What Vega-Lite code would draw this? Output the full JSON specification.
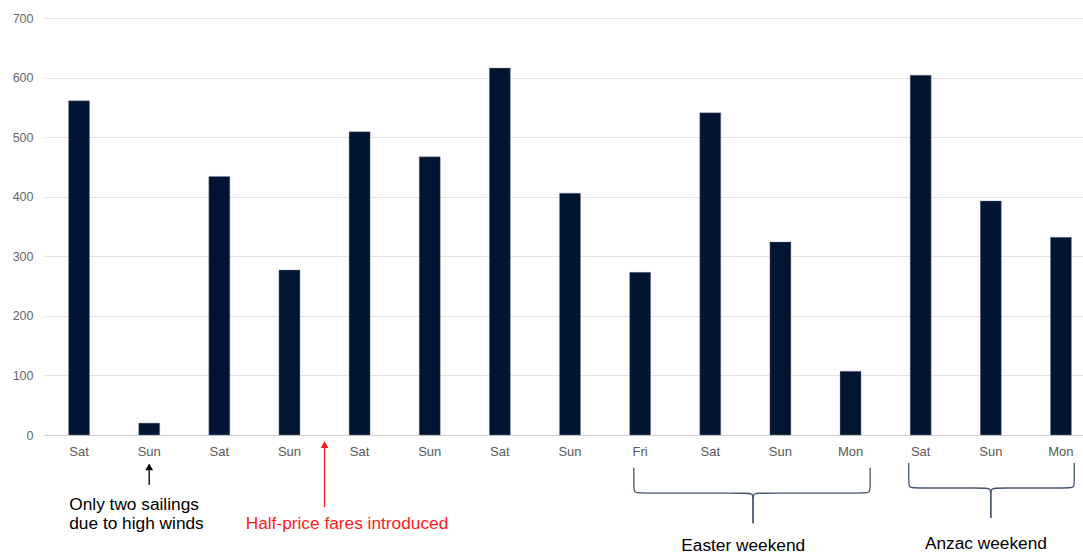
{
  "$schema": "https://vega.github.io/schema/vega-lite/v6.json",
  "width": 1039,
  "height": 417,
  "autosize": {"type": "none"},
  "padding": {"left": 44, "top": 18, "right": 0, "bottom": 119},
  "background": "white",
  "config": {"view": {"stroke": null}, "font": "Liberation Sans"},
  "datasets": {
    "bars": [
      {"slot": "01 Sat", "passengers": 561},
      {"slot": "02 Sun", "passengers": 20},
      {"slot": "03 Sat", "passengers": 434},
      {"slot": "04 Sun", "passengers": 277},
      {"slot": "05 Sat", "passengers": 509},
      {"slot": "06 Sun", "passengers": 467},
      {"slot": "07 Sat", "passengers": 616},
      {"slot": "08 Sun", "passengers": 406},
      {"slot": "09 Fri", "passengers": 273},
      {"slot": "10 Sat", "passengers": 541},
      {"slot": "11 Sun", "passengers": 324},
      {"slot": "12 Mon", "passengers": 107},
      {"slot": "13 Sat", "passengers": 604},
      {"slot": "14 Sun", "passengers": 393},
      {"slot": "15 Mon", "passengers": 332}
    ],
    "notes": [
      {"note": "wind", "pos": -0.14, "value": -125.5, "text": "Only two sailings"},
      {"note": "wind", "pos": -0.14, "value": -158.3, "text": "due to high winds"},
      {"note": "fare", "pos": 3.82, "value": -157, "text": "Half-price fares introduced"},
      {"note": "weekend", "pos": 9.47, "value": -194, "text": "Easter weekend"},
      {"note": "weekend", "pos": 12.93, "value": -191.6, "text": "Anzac weekend"}
    ],
    "arrows": [
      {"note": "wind", "pos": 1, "from": -84, "to": -53.4},
      {"note": "fare", "pos": 3.5, "from": -121, "to": -16}
    ],
    "braces": [
      {"part": "Easter L", "step": 1, "pos": 7.91, "value": -55},
      {"part": "Easter L", "step": 2, "pos": 7.91, "value": -85.5},
      {"part": "Easter L", "step": 3, "pos": 7.91, "value": -97.5},
      {"part": "Easter L", "step": 4, "pos": 8.01, "value": -97.5},
      {"part": "Easter L", "step": 5, "pos": 9.51, "value": -97.5},
      {"part": "Easter L", "step": 6, "pos": 9.61, "value": -97.5},
      {"part": "Easter L", "step": 7, "pos": 9.61, "value": -109.5},
      {"part": "Easter L", "step": 8, "pos": 9.61, "value": -148},
      {"part": "Easter R", "step": 1, "pos": 11.28, "value": -55},
      {"part": "Easter R", "step": 2, "pos": 11.28, "value": -85.5},
      {"part": "Easter R", "step": 3, "pos": 11.28, "value": -97.5},
      {"part": "Easter R", "step": 4, "pos": 11.18, "value": -97.5},
      {"part": "Easter R", "step": 5, "pos": 9.71, "value": -97.5},
      {"part": "Easter R", "step": 6, "pos": 9.61, "value": -97.5},
      {"part": "Easter R", "step": 7, "pos": 9.61, "value": -109.5},
      {"part": "Easter R", "step": 8, "pos": 9.61, "value": -148},
      {"part": "Anzac L", "step": 1, "pos": 11.83, "value": -47},
      {"part": "Anzac L", "step": 2, "pos": 11.83, "value": -77},
      {"part": "Anzac L", "step": 3, "pos": 11.83, "value": -89},
      {"part": "Anzac L", "step": 4, "pos": 11.93, "value": -89},
      {"part": "Anzac L", "step": 5, "pos": 12.9, "value": -89},
      {"part": "Anzac L", "step": 6, "pos": 13.0, "value": -89},
      {"part": "Anzac L", "step": 7, "pos": 13.0, "value": -101},
      {"part": "Anzac L", "step": 8, "pos": 13.0, "value": -139.5},
      {"part": "Anzac R", "step": 1, "pos": 14.19, "value": -47},
      {"part": "Anzac R", "step": 2, "pos": 14.19, "value": -77},
      {"part": "Anzac R", "step": 3, "pos": 14.19, "value": -89},
      {"part": "Anzac R", "step": 4, "pos": 14.09, "value": -89},
      {"part": "Anzac R", "step": 5, "pos": 13.1, "value": -89},
      {"part": "Anzac R", "step": 6, "pos": 13.0, "value": -89},
      {"part": "Anzac R", "step": 7, "pos": 13.0, "value": -101},
      {"part": "Anzac R", "step": 8, "pos": 13.0, "value": -139.5}
    ]
  },
  "resolve": {"scale": {"x": "independent"}, "axis": {"y": "independent"}},
  "layer": [
    {
      "data": {"name": "bars"},
      "mark": {"type": "bar", "color": "#011532", "stroke": "#8a93a3", "strokeWidth": 0.4},
      "encoding": {
        "x": {
          "field": "slot", "type": "nominal", "sort": null,
          "scale": {"type": "band", "range": [0, 1052], "paddingInner": 0.7, "paddingOuter": 0.35},
          "axis": {
            "title": null, "labelAngle": 0, "ticks": false,
            "domainColor": "#cccccc", "domainWidth": 1,
            "labelExpr": "split(datum.label, ' ')[1]",
            "labelFontSize": 13, "labelColor": "#595959", "labelPadding": 10
          }
        },
        "y": {
          "field": "passengers", "type": "quantitative",
          "scale": {"domain": [0, 700], "nice": false},
          "axis": {
            "title": null, "values": [0, 100, 200, 300, 400, 500, 600, 700],
            "domain": false, "ticks": false, "grid": true, "gridColor": "#e2e2e2",
            "labelFontSize": 12.5, "labelColor": "#666666", "labelPadding": 11
          }
        }
      }
    },
    {
      "data": {"name": "braces"},
      "mark": {"type": "line", "interpolate": "basis", "color": "#45546b", "strokeWidth": 1.3},
      "encoding": {
        "x": {"field": "pos", "type": "quantitative", "scale": {"domain": [-0.5, 14.5], "range": [0, 1052], "nice": false, "zero": false}, "axis": null},
        "y": {"field": "value", "type": "quantitative", "scale": {"domain": [0, 700], "nice": false}, "axis": null},
        "detail": {"field": "part"},
        "order": {"field": "step"}
      }
    },
    {
      "data": {"name": "arrows"},
      "mark": {"type": "rule", "strokeWidth": 1.3},
      "encoding": {
        "x": {"field": "pos", "type": "quantitative", "scale": {"domain": [-0.5, 14.5], "range": [0, 1052], "nice": false, "zero": false}, "axis": null},
        "y": {"field": "from", "type": "quantitative", "scale": {"domain": [0, 700], "nice": false}, "axis": null},
        "y2": {"field": "to"},
        "color": {"field": "note", "type": "nominal", "scale": {"domain": ["wind", "fare", "weekend"], "range": ["#000000", "#ff1a1a", "#000000"]}, "legend": null}
      }
    },
    {
      "data": {"name": "arrows"},
      "mark": {"type": "point", "shape": "triangle-up", "filled": true, "size": 60, "opacity": 1},
      "encoding": {
        "x": {"field": "pos", "type": "quantitative", "scale": {"domain": [-0.5, 14.5], "range": [0, 1052], "nice": false, "zero": false}, "axis": null},
        "y": {"field": "to", "type": "quantitative", "scale": {"domain": [0, 700], "nice": false}, "axis": null},
        "color": {"field": "note", "type": "nominal", "legend": null}
      }
    },
    {
      "data": {"name": "notes"},
      "transform": [{"filter": "datum.note === 'wind'"}],
      "mark": {"type": "text", "align": "left", "baseline": "alphabetic", "fontSize": 17.3},
      "encoding": {
        "x": {"field": "pos", "type": "quantitative", "scale": {"domain": [-0.5, 14.5], "range": [0, 1052], "nice": false, "zero": false}, "axis": null},
        "y": {"field": "value", "type": "quantitative", "scale": {"domain": [0, 700], "nice": false}, "axis": null},
        "text": {"field": "text"},
        "color": {"field": "note", "type": "nominal", "legend": null}
      }
    },
    {
      "data": {"name": "notes"},
      "transform": [{"filter": "datum.note !== 'wind'"}],
      "mark": {"type": "text", "align": "center", "baseline": "alphabetic", "fontSize": 17.3},
      "encoding": {
        "x": {"field": "pos", "type": "quantitative", "scale": {"domain": [-0.5, 14.5], "range": [0, 1052], "nice": false, "zero": false}, "axis": null},
        "y": {"field": "value", "type": "quantitative", "scale": {"domain": [0, 700], "nice": false}, "axis": null},
        "text": {"field": "text"},
        "color": {"field": "note", "type": "nominal", "legend": null}
      }
    }
  ]
}
